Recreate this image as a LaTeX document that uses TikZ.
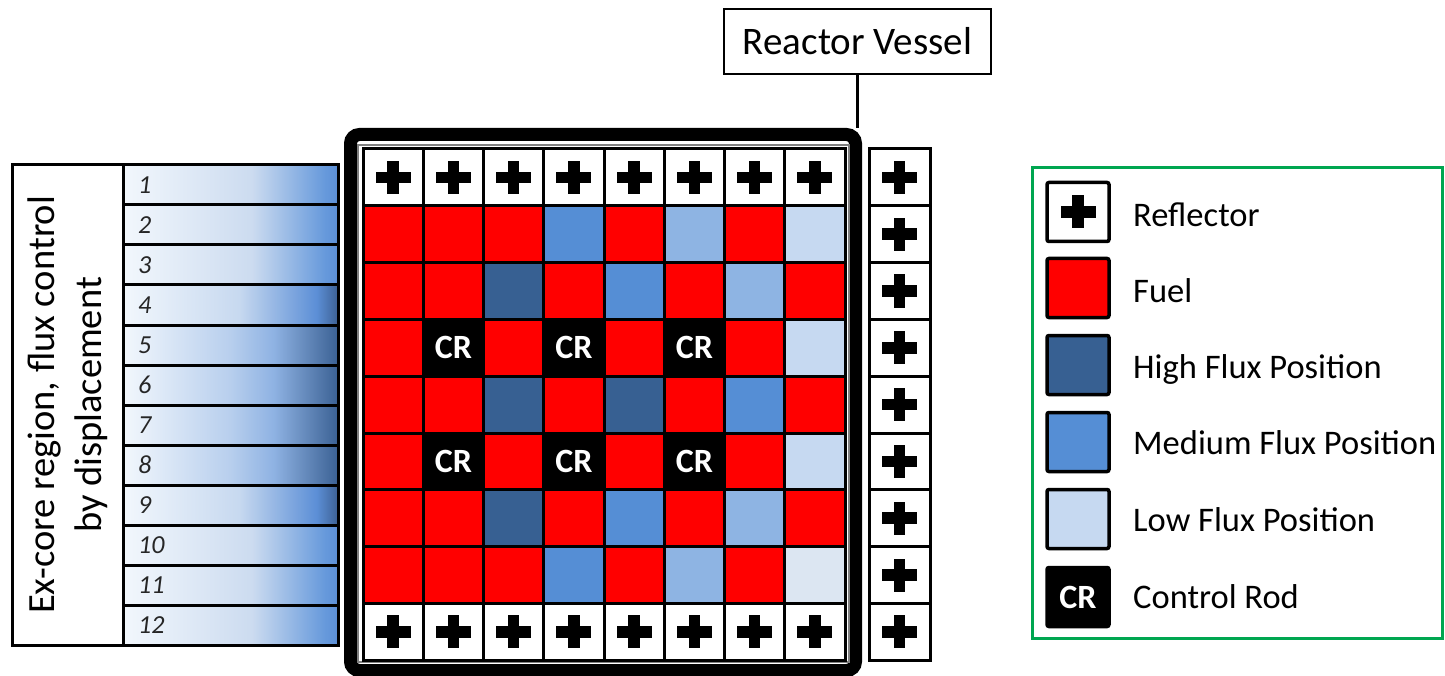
\documentclass[tikz,border=0pt]{standalone}
\usepackage{fontspec}
\setmainfont{Carlito}
\definecolor{fuel}{RGB}{255,0,0}
\definecolor{hiflux}{RGB}{55,96,146}
\definecolor{medflux}{RGB}{85,142,213}
\definecolor{lmflux}{RGB}{142,180,227}
\definecolor{loflux}{RGB}{198,217,241}
\definecolor{vloflux}{RGB}{220,230,242}
\definecolor{legendgreen}{RGB}{0,166,80}
\pgfdeclarehorizontalshading{stripA}{100bp}{rgb(0bp)=(.95,.97,.99); rgb(25bp)=(.95,.97,.99); rgb(55bp)=(.80,.86,.94); rgb(72bp)=(.40,.60,.86); rgb(75bp)=(.36,.56,.84); rgb(100bp)=(.36,.56,.84)}
\pgfdeclarehorizontalshading{stripB}{100bp}{rgb(0bp)=(.95,.97,.99); rgb(25bp)=(.95,.97,.99); rgb(52bp)=(.78,.85,.94); rgb(70bp)=(.36,.56,.84); rgb(75bp)=(.24,.38,.58); rgb(100bp)=(.24,.38,.58)}
\pgfdeclarehorizontalshading{stripC}{100bp}{rgb(0bp)=(.95,.97,.99); rgb(25bp)=(.95,.97,.99); rgb(50bp)=(.72,.81,.93); rgb(60bp)=(.56,.70,.89); rgb(75bp)=(.23,.38,.58); rgb(100bp)=(.23,.38,.58)}
\newcommand\mycrfont{\fontsize{34}{34}\selectfont\bfseries}
\newcommand\mylegfont{\fontsize{34.5}{40}\selectfont}
\newcommand\mynumfont{\fontsize{26}{30}\selectfont\itshape}
\newcommand\myvesfont{\fontsize{39}{44}\selectfont}
\newcommand\mylabfont{\fontsize{38.5}{47}\selectfont}
\begin{document}
\begin{tikzpicture}[x=1pt,y=-1pt,
  cell/.style={draw=black, line width=3pt, minimum width=60.25pt, minimum height=56.8pt, inner sep=0pt, outer sep=0pt},
  cF/.style={fill=fuel}, cH/.style={fill=hiflux}, cM/.style={fill=medflux},
  cL/.style={fill=lmflux}, cW/.style={fill=loflux}, cV/.style={fill=vloflux},
  cC/.style={fill=black, text=white, font=\mycrfont, execute at begin node=CR},
  strip/.style={draw=black, line width=3pt, minimum width=215pt, minimum height=40pt, inner sep=0pt, shade},
  num/.style={font=\mynumfont, text=black!85, inner sep=0pt},
  swatch/.style={draw=black, line width=3.5pt, rounded corners=2pt, minimum width=62pt, minimum height=59pt, inner sep=0pt},
  legtext/.style={font=\mylegfont, inner sep=0pt},
  reflplus/.pic={\fill[black] (-17.5,-5.8) rectangle (17.5,5.8); \fill[black] (-5.8,-16.5) rectangle (5.8,16.5);}
]
\useasboundingbox (0,0) rectangle (1445,676);

% left label and strips
\node[draw=black, line width=3pt, rotate=90, minimum width=480pt, minimum height=111pt, inner sep=0pt, align=center, font=\mylabfont] (lbl) at (67.5,405) {Ex-core region, flux control\\by displacement};
\foreach \k/\sh in {1/stripA,2/stripA,3/stripA,4/stripB,5/stripC,6/stripC,7/stripC,8/stripC,9/stripB,10/stripA,11/stripA,12/stripA} {
  \node[strip, shading=\sh] (s-\k) at (230.5,{185+40*(\k-1)}) {};
  \node[num, anchor=west] (n-\k) at (138,{185+40*(\k-1)}) {\k};
}

% vessel
\node[draw=black, line width=13pt, rounded corners=9pt, minimum width=505pt, minimum height=536pt, inner sep=0pt] (vessel) at (603,402.5) {};
\node[draw=gray, line width=1.5pt, minimum width=491pt, minimum height=517pt, inner sep=0pt] (inner) at (603.5,403.5) {};

% core grid
\foreach \r/\row in {2/{cF,cF,cF,cM,cF,cL,cF,cW}, 3/{cF,cF,cH,cF,cM,cF,cL,cF}, 4/{cF,cC,cF,cC,cF,cC,cF,cW}, 5/{cF,cF,cH,cF,cH,cF,cM,cF}, 6/{cF,cC,cF,cC,cF,cC,cF,cW}, 7/{cF,cF,cH,cF,cM,cF,cL,cF}, 8/{cF,cF,cF,cM,cF,cL,cF,cV}} {
  \foreach \k [count=\c] in \row {
    \node[cell, \k] (g-\r-\c) at ({363+60.25*(\c-0.5)},{149+56.8*(\r-0.5)}) {};
  }
}
\foreach \r in {1,9} {
  \foreach \c in {1,...,8} {
    \node[cell, fill=white] (g-\r-\c) at ({363+60.25*(\c-0.5)},{149+56.8*(\r-0.5)}) {};
    \pic at (g-\r-\c.center) {reflplus};
  }
}
% outer reflector column
\foreach \r in {1,...,9} {
  \node[cell, fill=white, minimum width=61pt] (rc-\r) at (899.5,{149+56.8*(\r-0.5)}) {};
  \pic at (rc-\r.center) {reflplus};
}

% reactor vessel label
\node[draw=black, line width=2pt, minimum width=267pt, minimum height=65pt, inner sep=0pt, font=\myvesfont] (rv) at (857.5,41.5) {Reactor Vessel};
\draw[line width=3pt] (rv.south) -- (rv.south |- vessel.north);

% legend
\node[draw=legendgreen, line width=3pt, minimum width=410pt, minimum height=471pt, inner sep=0pt] (legend) at (1237,403) {};
\node[swatch, fill=white] (k1) at (1078,212) {};
\pic at (k1.center) {reflplus};
\node[swatch, fill=fuel] (k2) at (1078,288) {};
\node[swatch, fill=hiflux] (k3) at (1078,365) {};
\node[swatch, fill=medflux] (k4) at (1078,442) {};
\node[swatch, fill=loflux] (k5) at (1078,519) {};
\node[swatch, fill=black, text=white, font=\mycrfont] (k6) at (1078,597) {CR};
\node[legtext, anchor=base west] (t1) at (1133,227) {Reflector};
\node[legtext, anchor=base west] (t2) at (1133,302) {Fuel};
\node[legtext, anchor=base west] (t3) at (1133,378) {High Flux Position};
\node[legtext, anchor=base west] (t4) at (1133,454) {Medium Flux Position};
\node[legtext, anchor=base west] (t5) at (1133,531) {Low Flux Position};
\node[legtext, anchor=base west] (t6) at (1133,608) {Control Rod};
\end{tikzpicture}
\end{document}
